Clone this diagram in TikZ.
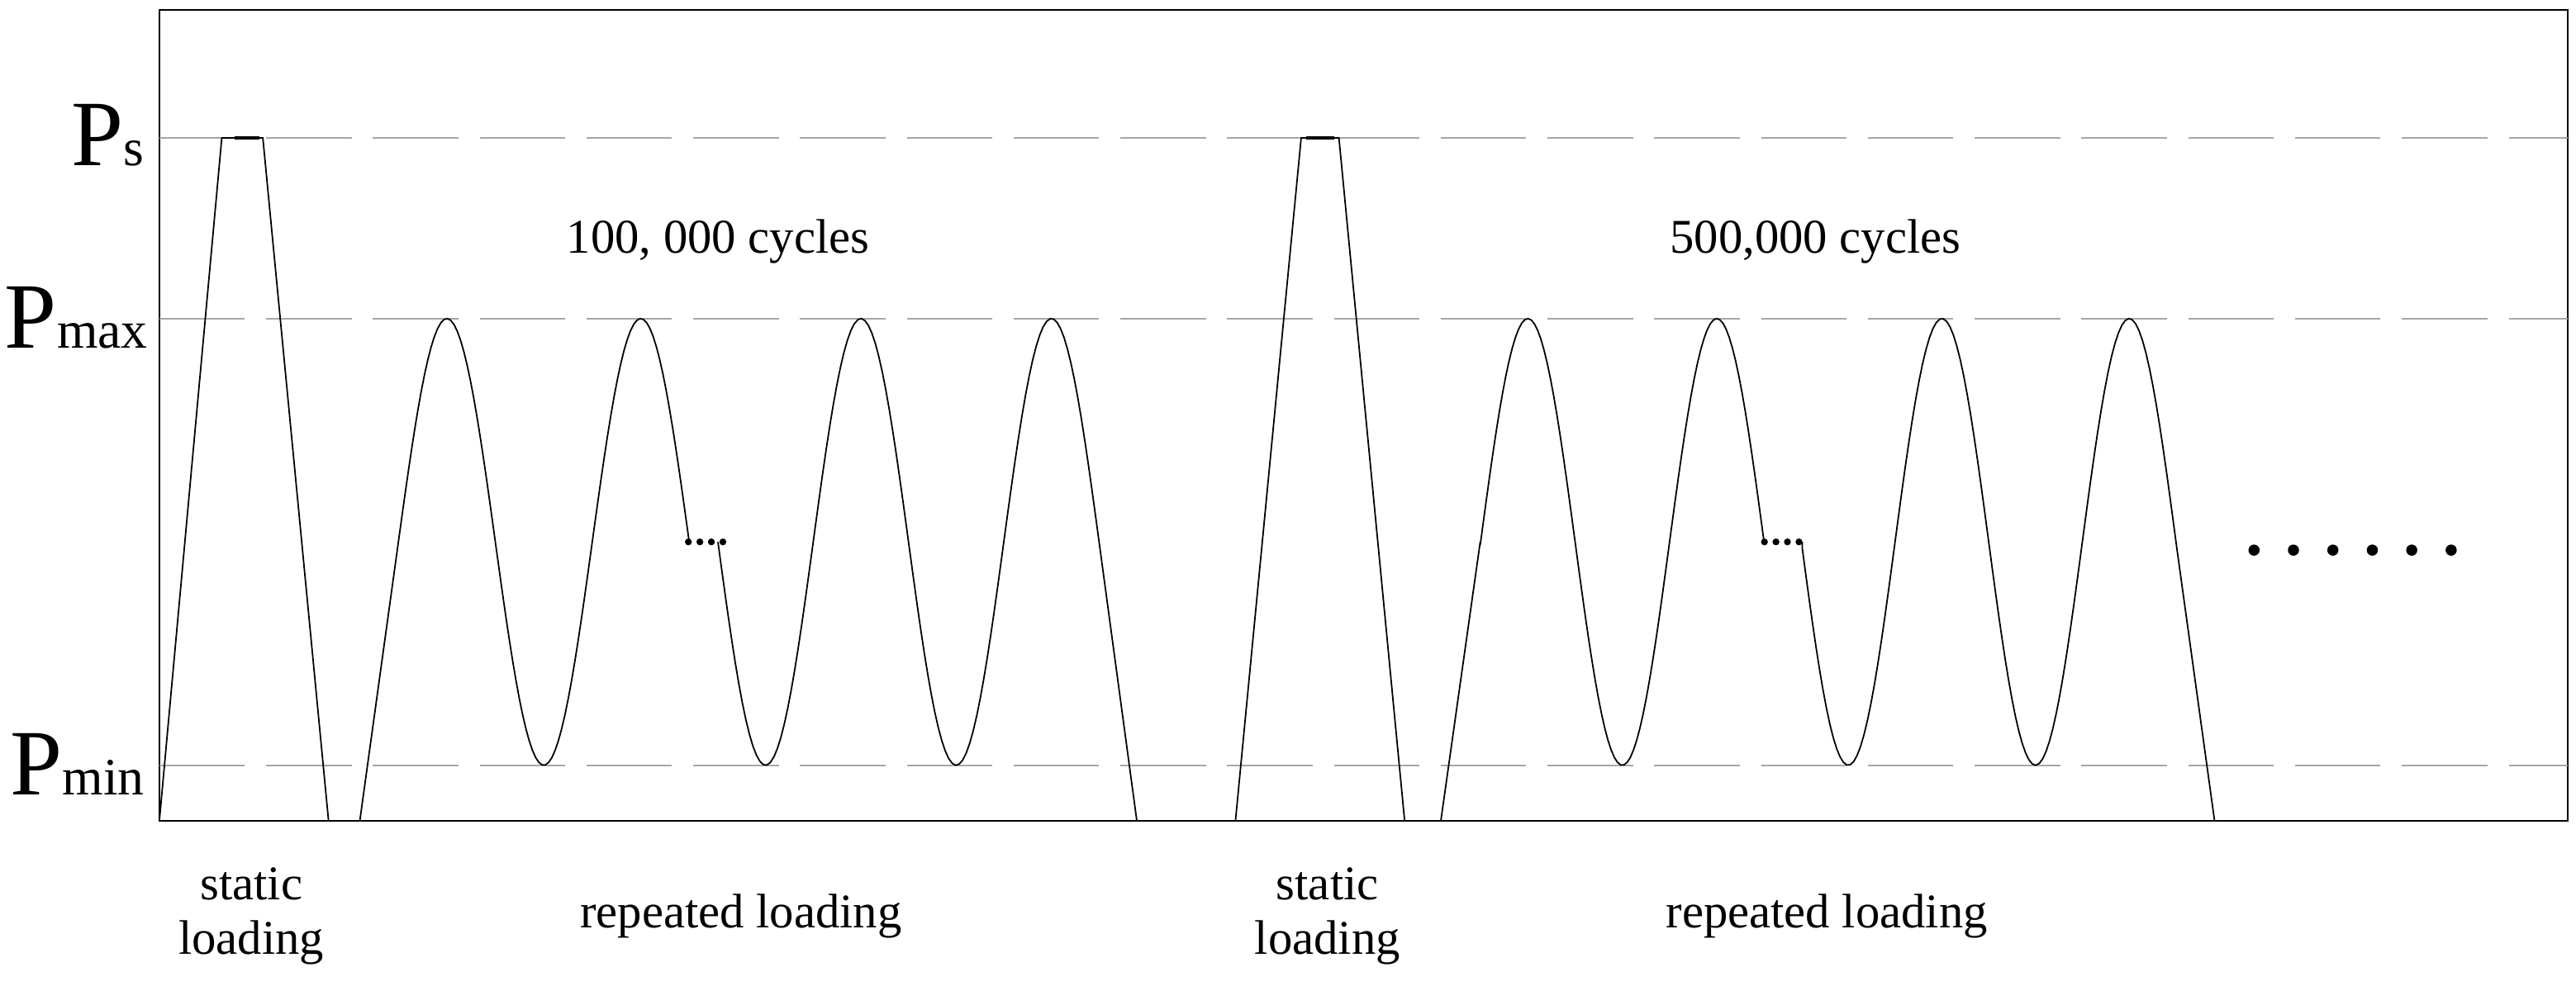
\documentclass[tikz,border=0pt]{standalone}
\usepackage{fontspec}
\setmainfont{Liberation Serif}
\begin{document}
\begin{tikzpicture}[x=1pt,y=-1pt,
  guide/.style={gray!70,line width=1pt,dash pattern=on 52pt off 13pt},
  wave/.style={black,line width=0.9pt},
  lbl/.style={font=\fontsize{29.5}{33}\selectfont,align=center},
  plab/.style={anchor=base east,inner sep=0pt}]
\useasboundingbox (0,0) rectangle (1568,600);
\draw[line width=1pt] (97,6) rectangle (1563,500);
\coordinate (psA) at (97,84); \coordinate (psB) at (1563,84);
\coordinate (pmA) at (97,194); \coordinate (pmB) at (1563,194);
\coordinate (pnA) at (97,466); \coordinate (pnB) at (1563,466);
\draw[guide] (psA) -- (psB);
\draw[guide] (pmA) -- (pmB);
\draw[guide] (pnA) -- (pnB);
\newcommand{\plbl}[3]{\node[plab] (#3) at (#2) {\fontsize{57}{57}\selectfont P\fontsize{32}{32}\selectfont #1};}
\plbl{s}{88,101}{Ps}
\plbl{max}{90,212}{Pmax}
\plbl{min}{88,484}{Pmin}
% static loading 1
\draw[wave] (97,500) -- (135,84) -- (160,84) -- (200,500);
\draw[line width=2pt] (143,84) -- (158,84);
% repeated group 1
\draw[wave] (219,500) -- (242.5,330) -- plot[domain=242.5:419.5,samples=90] (\x,{330-136*cos((\x-272)/59*180)});
\draw[wave] (437,330) -- plot[domain=437:669,samples=110] (\x,{330-136*cos((\x-408)/58*180)}) -- (692,500);
\foreach \d in {419,426,433,440} \fill (\d,330) circle (2.1);
% static loading 2
\draw[wave] (752,500) -- (792,84) -- (815,84) -- (855,500);
\draw[line width=2pt] (795,84) -- (812,84);
% repeated group 2
\draw[wave] (877,500) -- (901,330) -- plot[domain=901:1074,samples=90] (\x,{330-136*cos((\x-930)/57.5*180)});
\draw[wave] (1097,330) -- plot[domain=1097:1325,samples=110] (\x,{330-136*cos((\x-1068)/57*180)}) -- (1348,500);
\foreach \d in {1074,1081,1088,1095} \fill (\d,330) circle (2.1);
\foreach \d in {1372,1396,1420,1444,1468,1492} \fill (\d,335) circle (3.4);
% texts
\node[lbl] (c1) at (437,147) {100, 000 cycles};
\node[lbl] (c2) at (1105,147) {500,000 cycles};
\node[lbl] (s1) at (153,558) {static\\loading};
\node[lbl] (r1) at (451,558) {repeated loading};
\node[lbl] (s2) at (808,558) {static\\loading};
\node[lbl] (r2) at (1112,558) {repeated loading};
\end{tikzpicture}
\end{document}
